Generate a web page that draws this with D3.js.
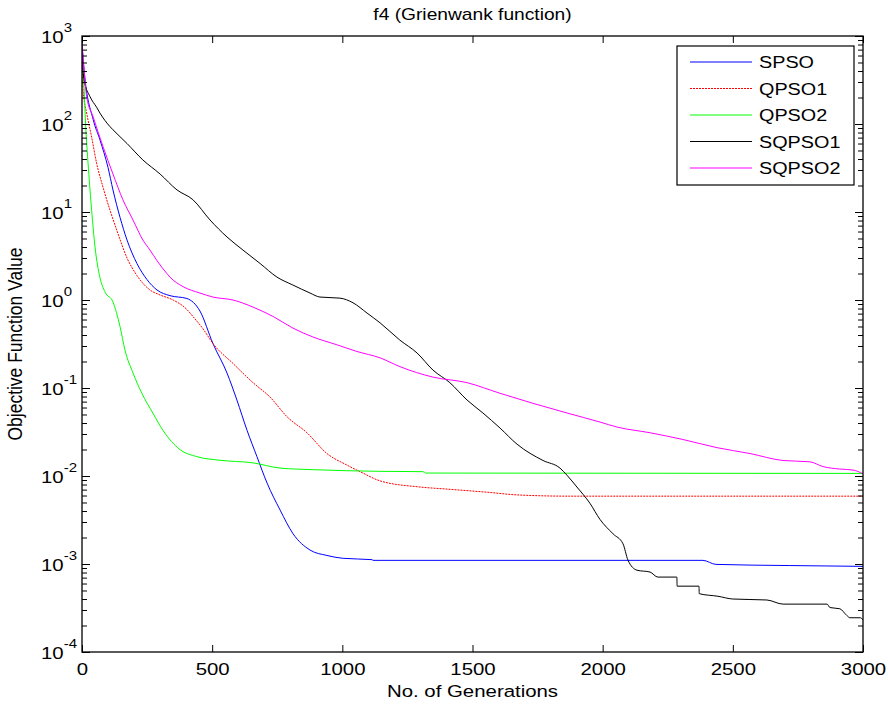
<!DOCTYPE html>
<html>
<head>
<meta charset="utf-8">
<script src="https://cdn.jsdelivr.net/npm/d3@7"></script>
<style>
    body { margin: 0; background: #fff; }
    text { font-family: "Liberation Sans", Arial, sans-serif; fill: #000; }
</style>
</head>
<body>
<div id="chart"></div>
<script>
// values: [generation, objective value]
const spso = [[0, 830], [8, 410], [43, 112], [69, 66], [100, 32], [119, 17.8], [146, 8.7], [173, 4.8],
    [211, 2.6], [250, 1.7], [288, 1.3], [338, 1.12], [403, 1.04], [453, 0.75], [503, 0.32], [557, 0.148],
    [595, 0.073], [634, 0.033], [672, 0.0166], [711, 0.0083], [761, 0.0041], [811, 0.0022], [876, 0.00144],
    [941, 0.00125], [1003, 0.00116], [1114, 0.00112], [1118, 0.0011], [2385, 0.0011], [2435, 0.00099],
    [2719, 0.00096], [3000, 0.00094]];

const qpso1 = [[0, 650], [5, 230], [18, 133], [37, 71], [56, 36], [81, 19], [108, 10.4], [138, 5.7],
    [173, 3.0], [211, 1.9], [261, 1.3], [300, 1.14], [350, 1.0], [403, 0.78], [426, 0.65], [465, 0.47],
    [503, 0.32], [580, 0.19], [657, 0.115], [722, 0.079], [788, 0.047], [864, 0.031], [941, 0.018],
    [1018, 0.0133], [1079, 0.0108], [1145, 0.0088], [1298, 0.0075], [1402, 0.0071], [1567, 0.0065],
    [1671, 0.0061], [1874, 0.0059], [3000, 0.0059]];

const qpso2 = [[0, 400], [4, 380], [15, 85], [28, 23], [37, 10.5], [50, 4], [69, 1.8], [88, 1.24],
    [119, 0.95], [146, 0.5], [165, 0.27], [196, 0.148], [230, 0.087], [272, 0.052], [311, 0.033],
    [376, 0.02], [441, 0.0166], [530, 0.0151], [657, 0.0141], [761, 0.0123], [888, 0.0118],
    [1144, 0.0113], [1310, 0.0112], [1320, 0.0108], [3000, 0.0107]];

const sqpso1 = [[0, 600], [8, 316], [31, 204], [56, 155], [69, 133], [108, 93], [119, 86], [173, 60],
    [234, 39], [300, 27], [365, 17.8], [426, 13.8], [492, 8.1], [557, 5.2], [618, 3.7], [684, 2.6],
    [749, 1.82], [810, 1.48], [876, 1.2], [914, 1.08], [991, 1.05], [1041, 0.93], [1095, 0.71],
    [1145, 0.55], [1221, 0.35], [1287, 0.25], [1348, 0.16], [1413, 0.115], [1479, 0.073], [1540, 0.052],
    [1606, 0.035], [1671, 0.023], [1771, 0.015], [1836, 0.0123], [1863, 0.0102], [1901, 0.0075],
    [1951, 0.0049], [1990, 0.0032], [2040, 0.0022], [2078, 0.0017], [2097, 0.00111], [2132, 0.00085],
    [2182, 0.00081], [2212, 0.00071], [2285, 0.00071], [2286, 0.00056], [2370, 0.00056], [2371, 0.00046],
    [2443, 0.00043], [2500, 0.0004], [2631, 0.00039], [2693, 0.00035], [2862, 0.00035], [2873, 0.00032],
    [2911, 0.00031], [2938, 0.00026], [2950, 0.000245], [2990, 0.000245], [3000, 0.00023]];

const sqpso2 = [[0, 780], [8, 420], [18, 204], [43, 120], [81, 55], [119, 27], [157, 13.8], [196, 8.1],
    [234, 4.8], [261, 3.7], [288, 2.8], [326, 2.0], [338, 1.82], [388, 1.42], [453, 1.2], [503, 1.08],
    [580, 1.0], [657, 0.83], [734, 0.65], [810, 0.48], [887, 0.38], [979, 0.31], [1056, 0.26],
    [1145, 0.22], [1221, 0.175], [1348, 0.133], [1479, 0.115], [1606, 0.087], [1732, 0.067],
    [1863, 0.052], [1990, 0.041], [2055, 0.036], [2182, 0.031], [2308, 0.026], [2439, 0.021],
    [2566, 0.018], [2693, 0.015], [2796, 0.0145], [2846, 0.0128], [2911, 0.012], [2961, 0.0117],
    [3000, 0.0106]];

const seriesNames = ['SPSO', 'QPSO1', 'QPSO2', 'SQPSO1', 'SQPSO2'];
const seriesData = [spso, qpso1, qpso2, sqpso1, sqpso2];
const colors = ['#0000ff', '#ff0000', '#00ff00', '#000000', '#ff00ff'];
const dashes = [null, '2,1', null, null, null];

const xTicks = [0, 500, 1000, 1500, 2000, 2500, 3000];
const yExponents = [-4, -3, -2, -1, 0, 1, 2, 3];

const title = 'f4 (Grienwank function)';
const xTitle = 'No. of Generations';
const yTitle = 'Objective Function Value';

const margin = {
    top: 36,
    bottom: 54,
    left: 82,
    right: 25,
};

const
    WIDTH = 888,
    HEIGHT = 706;

const width = WIDTH - margin.left - margin.right,
    height = HEIGHT - margin.top - margin.bottom;

const STRETCH = 1.2; // the picture's text is a bit wider than plain Arial

const svg = d3.select('#chart').append('svg')
    .attr('width', WIDTH)
    .attr('height', HEIGHT);

svg.append('rect')
    .attr('width', WIDTH)
    .attr('height', HEIGHT)
    .attr('fill', '#fff');

const container = svg.append('g')
    .attr('transform', `translate(${margin.left} ${margin.top})`);

const xScale = d3.scaleLinear()
    .domain([0, 3000])
    .range([0, width]);

const yScale = d3.scaleLog()
    .domain([1e-4, 1e3])
    .range([height, 0]);

const yMajor = yExponents.map((e) => Math.pow(10, e));
const yMinor = [];
yExponents.slice(0, -1).forEach((e) => {
    for (let k = 2; k <= 9; k++) yMinor.push(k * Math.pow(10, e));
});

container.append('clipPath')
    .attr('id', 'clip')
    .append('rect')
    .attr('width', width)
    .attr('height', height);

/////////////////////// lines /////////////////////////////

const line = d3.line()
    .curve(d3.curveMonotoneX)
    .x((d) => xScale(d[0]))
    .y((d) => yScale(d[1]));

container.append('g')
    .attr('clip-path', 'url(#clip)')
    .selectAll('path')
    .data(seriesData)
    .join('path')
    .attr('d', line)
    .attr('fill', 'none')
    .attr('stroke', (d, i) => colors[i])
    .attr('stroke-width', 1)
    .attr('stroke-dasharray', (d, i) => dashes[i]);

/////////////////////// axes /////////////////////////////

const noDomain = (g) => g.select('.domain').remove();

container.append('g')
    .attr('transform', `translate(0, ${height})`)
    .call(d3.axisBottom(xScale).tickValues(xTicks).tickFormat(d3.format('d'))
        .tickSize(-7).tickPadding(11).tickSizeOuter(0))
    .call(noDomain)
    .call((g) => g.selectAll('text')
        .style('font-size', '17px')
        .style('font-family', '"Liberation Sans", Arial, sans-serif')
        .attr('fill', '#000')
        .attr('transform', `scale(${STRETCH},1)`));

container.append('g')
    .call(d3.axisTop(xScale).tickValues(xTicks).tickSize(-7).tickFormat('').tickSizeOuter(0))
    .call(noDomain);

container.append('g')
    .call(d3.axisLeft(yScale).tickValues(yMajor).tickSize(-8).tickFormat('').tickSizeOuter(0))
    .call(noDomain);
container.append('g')
    .call(d3.axisLeft(yScale).tickValues(yMinor).tickSize(-5).tickFormat('').tickSizeOuter(0))
    .call(noDomain);
container.append('g')
    .attr('transform', `translate(${width}, 0)`)
    .call(d3.axisRight(yScale).tickValues(yMajor).tickSize(-8).tickFormat('').tickSizeOuter(0))
    .call(noDomain);
container.append('g')
    .attr('transform', `translate(${width}, 0)`)
    .call(d3.axisRight(yScale).tickValues(yMinor).tickSize(-5).tickFormat('').tickSizeOuter(0))
    .call(noDomain);

container.selectAll('.tick line').attr('stroke', '#000').attr('stroke-width', 1);

container.append('rect')
    .attr('width', width)
    .attr('height', height)
    .attr('fill', 'none')
    .attr('stroke', '#000')
    .attr('stroke-width', 1.3);

// y tick labels as 10 with a superscript
const yLabels = svg.append('g')
    .selectAll('g')
    .data(yExponents)
    .join('g')
    .attr('transform', (d) => `translate(41, ${margin.top + yScale(Math.pow(10, d)) + 7}) scale(${STRETCH},1)`);

const yText = yLabels.append('text').style('font-size', '17px');
yText.append('tspan').text('10');
yText.append('tspan')
    .attr('dy', -11)
    .style('font-size', '12.5px')
    .text((d) => d);

/////////////////////// titles /////////////////////////////

svg.append('text')
    .attr('transform', `translate(${margin.left + width / 2}, 20) scale(${STRETCH},1)`)
    .style('text-anchor', 'middle')
    .style('font-size', '16px')
    .text(title);

svg.append('text')
    .attr('transform', `translate(${margin.left + width / 2}, 697) scale(${STRETCH},1)`)
    .style('text-anchor', 'middle')
    .style('font-size', '17px')
    .text(xTitle);

svg.append('text')
    .attr('transform', `translate(22, ${margin.top + height / 2}) rotate(-90) scale(1,${STRETCH})`)
    .style('text-anchor', 'middle')
    .style('font-size', '17.5px')
    .text(yTitle);

/////////////////////// legend /////////////////////////////

const legend = svg.append('g')
    .attr('transform', 'translate(677, 46)');

legend.append('rect')
    .attr('width', 177)
    .attr('height', 139)
    .attr('fill', '#fff')
    .attr('stroke', '#000')
    .attr('stroke-width', 1.2);

const rowY = d3.scalePoint()
    .domain(seriesNames)
    .range([16, 122]);

const rows = legend.selectAll('g.row')
    .data(seriesNames)
    .join('g')
    .attr('class', 'row')
    .attr('transform', (d) => `translate(0, ${rowY(d)})`);

rows.append('line')
    .attr('x1', 13)
    .attr('x2', 75)
    .attr('stroke', (d, i) => colors[i])
    .attr('stroke-width', 1)
    .attr('stroke-dasharray', (d, i) => dashes[i]);

rows.append('text')
    .attr('transform', `translate(82, 6) scale(${STRETCH},1)`)
    .style('font-size', '16.5px')
    .text((d) => d);
</script>
</body>
</html>
